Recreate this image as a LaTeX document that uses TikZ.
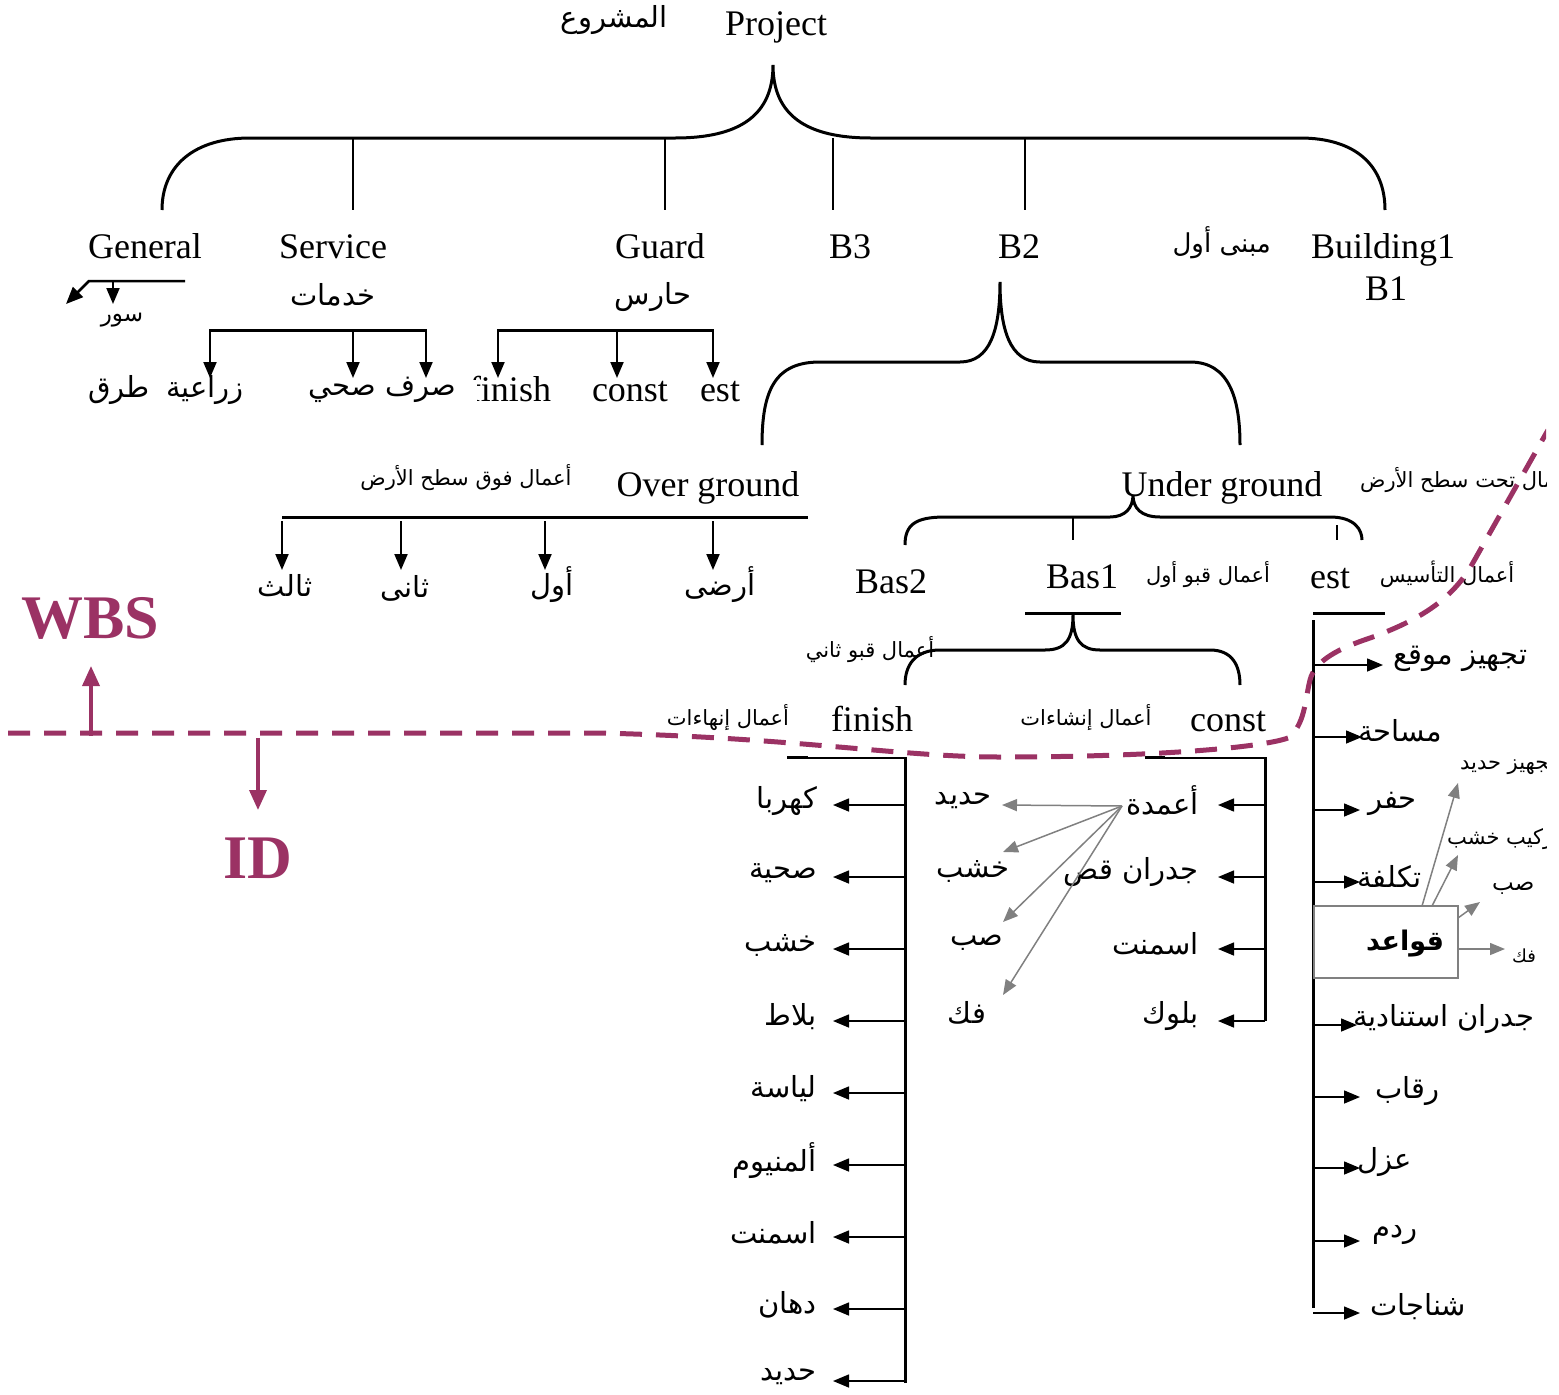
\documentclass[tikz,border=0pt]{standalone}
\usepackage{fontspec}
\setmainfont{Liberation Serif}
\newfontfamily\arabicfont[Script=Arabic]{DejaVu Sans}
\usetikzlibrary{arrows.meta}
\TeXXeTstate=1
\newcommand\RL[1]{\beginR #1\endR}
\definecolor{wbs}{RGB}{155,50,100}
\definecolor{gline}{RGB}{128,128,128}
\tikzset{
  en/.style={font=\fontsize{36}{40}\selectfont, inner sep=0pt, anchor=base},
  arb/.style={font=\arabicfont\fontsize{29}{33}\selectfont, inner sep=0pt},
  ars/.style={font=\arabicfont\fontsize{21}{24}\selectfont, inner sep=0pt},
  thickln/.style={line width=3pt},
  thinln/.style={line width=1.5pt},
  arr/.style={line width=2pt, -{Triangle[length=16pt,width=13pt]}},
  garr/.style={line width=1.5pt, draw=gline, -{Triangle[length=15pt,width=12pt]}, color=gline},
  magdash/.style={draw=wbs, line width=5pt, dash pattern=on 22pt off 14pt},
  magarr/.style={draw=wbs, line width=3.5pt, -{Triangle[length=20pt,width=17pt]}, color=wbs},
  big/.style={font=\bfseries\fontsize{62}{66}\selectfont, text=wbs, inner sep=0pt},
}
\begin{document}
\begin{tikzpicture}[x=1pt,y=-1pt]
\useasboundingbox (0,0) rectangle (1559,1395);
\clip (0,0) rectangle (1546,1395);

% ---------- top ----------
\node[en] (project) at (776,35) {Project};
\node[arb, font=\arabicfont\fontsize{29}{33}\selectfont, anchor=east] (mashrou) at (668,20) {\RL{المشروع}};
\draw[thickln] (162,210) .. controls (162,165) and (195,138) .. (250,138) -- (675,138)
  .. controls (740,138) and (773,115) .. (773,65)
  .. controls (773,115) and (806,138) .. (871,138) -- (1300,138)
  .. controls (1355,138) and (1385,165) .. (1385,210);
\foreach \x in {353,665,833,1025} \draw[thinln] (\x,138) -- (\x,210);

% ---------- level 2 ----------
\node[en] (general) at (145,258) {General};
\node[en] (service) at (333,258) {Service};
\node[en] (guard) at (660,258) {Guard};
\node[en] (b3) at (850,258) {B3};
\node[en] (b2) at (1019,258) {B2};
\node[arb, font=\arabicfont\fontsize{26}{30}\selectfont, anchor=east] (mabna) at (1271,243) {\RL{مبنى أول}};
\node[en] (building1) at (1383,258) {Building1};
\node[en] (b1) at (1386,300) {B1};

% General
\draw[line width=2.5pt, -{Triangle[length=17pt,width=14pt]}] (185,281) -- (89,281) -- (66,304);
\draw[arr] (113,281) -- (113,304);
\node[ars, font=\arabicfont\fontsize{23}{26}\selectfont] (sur) at (122,320) {\RL{سور}};
\node[arb] (turuq) at (119,390) {\RL{طرق}};
\node[arb] (ziraia) at (205,390) {\RL{زراعية}};

% Service
\node[arb] (khadamat) at (333,295) {\RL{خدمات}};
\draw[thickln] (210,330) -- (426,330);
\foreach \x in {210,353,426} \draw[arr] (\x,329) -- (\x,378);

% Guard
\node[arb] (haris) at (653,297) {\RL{حارس}};
\draw[thickln] (498,330) -- (713,330);
\foreach \x in {498,617,713} \draw[arr] (\x,329) -- (\x,378);
\node[en] (gfinish) at (510,401) {finish};
\node[en] (gconst) at (630,401) {const};
\node[en] (gest) at (720,401) {est};
\fill[white] (455,380) rectangle (477,406);
\node[arb, anchor=east] (sarf) at (456,390) {\RL{صرف صحي}};

% ---------- B2 brace ----------
\draw[thickln] (762,445) .. controls (762,390) and (775,362) .. (820,362) -- (960,362)
  .. controls (990,362) and (1000,330) .. (1000,282)
  .. controls (1000,330) and (1010,362) .. (1040,362) -- (1190,362)
  .. controls (1230,362) and (1240,400) .. (1240,445);

% Over ground
\node[ars] (fawq) at (466,478) {\RL{أعمال فوق سطح الأرض}};
\node[en] (over) at (708,496) {Over ground};
\draw[thickln] (282,517) -- (808,517);
\foreach \x in {282,401,545,713} \draw[arr] (\x,521) -- (\x,570);
\node[arb] (thalith) at (285,586) {\RL{ثالث}};
\node[arb] (thani) at (405,588) {\RL{ثانى}};
\node[arb] (awwal) at (552,585) {\RL{أول}};
\node[arb] (ardi) at (720,585) {\RL{أرضى}};

% Under ground
\node[en] (under) at (1222,496) {Under ground};
\node[ars, anchor=west] (taht) at (1360,480) {\RL{أعمال تحت سطح الأرض}};
\draw[thickln] (905,545) .. controls (905,525) and (915,517) .. (945,517) -- (1110,517)
  .. controls (1125,517) and (1133,508) .. (1133,495)
  .. controls (1133,508) and (1141,517) .. (1160,517) -- (1330,517)
  .. controls (1355,517) and (1362,530) .. (1362,540);
\draw[thinln] (1073,517) -- (1073,540);
\draw[thinln] (1337,525) -- (1337,540);
\node[en] (bas2) at (891,593) {Bas2};
\node[en] (bas1) at (1082,588) {Bas1};
\node[ars] (qabw1) at (1208,575) {\RL{أعمال قبو أول}};
\node[en] (uest) at (1330,588) {est};
\node[ars] (tasis) at (1447,574) {\RL{أعمال التأسيس}};

% Bas1 brace
\draw[thickln] (1025,613) -- (1121,613);
\draw[thickln] (905,685) .. controls (905,665) and (915,650) .. (940,650) -- (1045,650)
  .. controls (1065,650) and (1073,640) .. (1073,615)
  .. controls (1073,640) and (1081,650) .. (1100,650) -- (1210,650)
  .. controls (1232,650) and (1240,665) .. (1240,685);
\node[ars] (qabw2) at (870,650) {\RL{أعمال قبو ثاني}};
\node[ars] (inhaat) at (728,718) {\RL{أعمال إنهاءات}};
\node[en] (finish) at (872,731) {finish};
\node[ars] (inshaat) at (1086,718) {\RL{أعمال إنشاءات}};
\node[en] (const) at (1228,731) {const};

% est column
\draw[thickln] (1313,613) -- (1385,613);
\draw[thickln] (1313,620) -- (1313,1308);

% finish column
\draw[thickln] (787,757) -- (808,757);
\draw[thinln] (808,758) -- (905,758);
\draw[thickln] (905,757) -- (905,1383);
\foreach \y/\t/\n in {805/كهربا/f1, 877/صحية/f2, 949/خشب/f3, 1021/بلاط/f4, 1093/لياسة/f5, 1165/ألمنيوم/f6, 1237/اسمنت/f7, 1309/دهان/f8, 1381/حديد/f9}{
  \node[arb, anchor=east] (\n) at (817,\y-4) {\RL{\t}};
  \draw[arr, line width=1.5pt] (905,\y) -- (833,\y);
}

% const column
\draw[thickln] (1145,757) -- (1165,757);
\draw[thinln] (1165,758) -- (1265,758);
\draw[thickln] (1265,757) -- (1265,1021);
\foreach \y/\t/\n in {805/أعمدة/c1, 877/جدران قص/c2, 949/اسمنت/c3, 1021/بلوك/c4}{
  \node[arb, anchor=east] (\n) at (1199,\y-5) {\RL{\t}};
  \draw[arr, line width=1.5pt] (1265,\y) -- (1218,\y);
}

% gray sub-items of columns
\coordinate (csrc) at (1122,806);
\node[arb] (g1) at (963,801) {\RL{حديد}};
\node[arb] (g2) at (973,871) {\RL{خشب}};
\node[arb] (g3) at (977,943) {\RL{صب}};
\node[arb] (g4) at (967,1013) {\RL{فك}};
\draw[garr] (csrc) -- (1002,805);
\draw[garr] (csrc) -- (1003,852);
\draw[garr] (csrc) -- (1003,922);
\draw[garr] (csrc) -- (1003,995);

% est column items
\foreach \y/\x/\t/\n/\lx in {665/1383/تجهيز موقع/e1/1393, 737/1362/مساحة/e2/1358, 810/1360/حفر/e3/1368, 882/1360/تكلفة/e4/1357, 1025/1357/جدران استنادية/e5/1353, 1097/1360/رقاب/e6/1375, 1168/1360/عزل/e7/1357, 1241/1360/ردم/e8/1372}{
  \node[arb, anchor=west] (\n) at (\lx,\y-6) {\RL{\t}};
  \draw[arr, line width=1.5pt] (1313,\y) -- (\x,\y);
}
\node[arb, anchor=west] (e9) at (1370,1307) {\RL{شناجات}};
\draw[arr, line width=1.5pt] (1313,1313) -- (1360,1313);

% qawaid box
\node[draw=gline, line width=1.5pt, fill=white, minimum width=144pt, minimum height=72pt, inner sep=0pt] (qawaid) at (1386,942) {};
\node[arb, font=\arabicfont\bfseries\fontsize{27}{30}\selectfont] (qtxt) at (1405,944) {\RL{قواعد}};
\draw[garr] (1422,906) -- (1458,783);
\draw[garr] (1432,906) -- (1458,855);
\draw[garr] (1458,918) -- (1480,902);
\draw[garr] (1458,949) -- (1505,949);
\node[ars, anchor=west] (q1) at (1460,767) {\RL{تجهيز حديد}};
\node[ars, anchor=west] (q2) at (1447,839) {\RL{تركيب خشب}};
\node[ars, font=\arabicfont\fontsize{23}{26}\selectfont, anchor=west] (q3) at (1492,888) {\RL{صب}};
\node[ars, font=\arabicfont\fontsize{18}{21}\selectfont, anchor=west] (q4) at (1512,956) {\RL{فك}};

% ---------- WBS / ID ----------
\draw[magdash] (8,733) -- (600,733) .. controls (800,738) and (900,757) .. (1000,757)
  .. controls (1150,757) and (1260,748) .. (1288,738)
  .. controls (1305,725) and (1305,700) .. (1310,680)
  .. controls (1315,660) and (1340,648) .. (1370,638)
  .. controls (1420,620) and (1450,600) .. (1470,568) -- (1548,430);
\draw[magarr] (91,736) -- (91,666);
\draw[magarr] (258,738) -- (258,810);
\node[big] (wbs) at (90,618) {WBS};
\node[big] (id) at (258,858) {ID};
\end{tikzpicture}
\end{document}
